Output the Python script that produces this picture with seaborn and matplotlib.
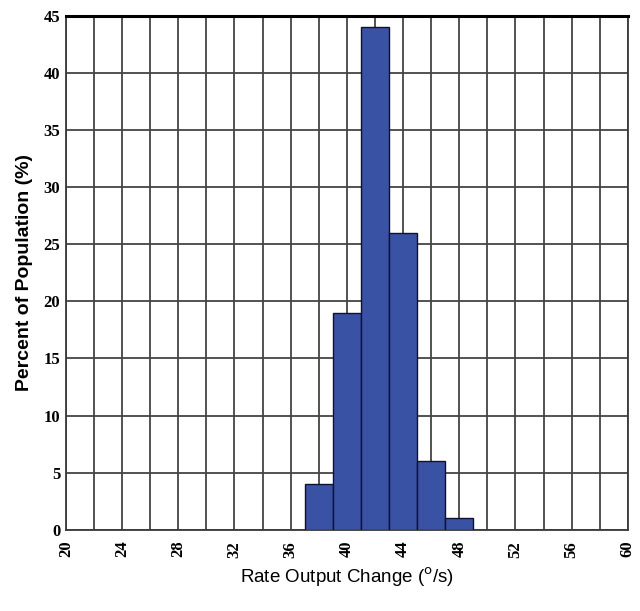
import matplotlib
matplotlib.use("Agg")
import matplotlib.pyplot as plt
import seaborn as sns
import numpy as np

# bin centres (deg/s) and percent of population
rate_centers = [38, 40, 42, 44, 46, 48]
percent = [4, 19, 44, 26, 6, 1]
x_ticks = [20, 24, 28, 32, 36, 40, 44, 48, 52, 56, 60]
y_ticks = [0, 5, 10, 15, 20, 25, 30, 35, 40, 45]

sns.set_style("white")

fig = plt.figure(figsize=(6.4, 6.11), dpi=100)
ax = fig.add_axes([0.103, 0.133, 0.878, 0.841])

sns.histplot(x=rate_centers, weights=percent, binwidth=2, binrange=(37, 49),
             color="#3a52a3", edgecolor="#101030", linewidth=1.0, alpha=1.0,
             ax=ax, zorder=3)

ax.set_xlim(20, 60)
ax.set_ylim(0, 45)
ax.set_xticks(np.arange(20, 61, 2), minor=True)
ax.set_xticks(x_ticks)
ax.set_yticks(y_ticks)
ax.grid(True, which="both", color="#444444", linewidth=1.3, zorder=0)
ax.set_axisbelow(True)

for s in ["left", "right", "bottom"]:
    ax.spines[s].set_color("#3a3a3a")
    ax.spines[s].set_linewidth(1.3)
ax.spines["top"].set_color("black")
ax.spines["top"].set_linewidth(2.2)

ax.tick_params(which="both", length=0, pad=8, labelcolor="black")
ax.set_xticklabels([str(t) for t in x_ticks], rotation=90,
                   family="Liberation Serif", fontweight="bold", fontsize=12)
ax.set_yticklabels([str(t) for t in y_ticks],
                   family="Liberation Serif", fontweight="bold", fontsize=12)
ax.tick_params(axis="y", pad=4)

ax.set_xlabel("Rate Output Change ($^\\mathrm{o}$/s)", family="Liberation Sans",
              fontsize=13.5, color="black", labelpad=6)
ax.set_ylabel("Percent of Population (%)", family="Liberation Sans",
              fontweight="bold", fontsize=14, color="black", labelpad=8)

fig.savefig("out.png", dpi=100)
